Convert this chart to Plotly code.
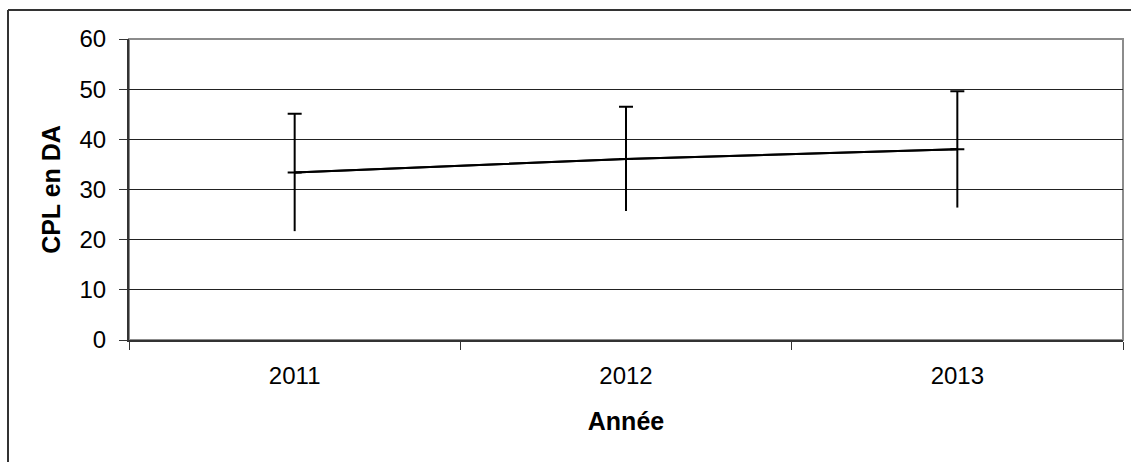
import plotly.graph_objects as go

# Annual CPL values (DA) with their spread
years = ["2011", "2012", "2013"]
cpl_mean = [33.4, 36.1, 38.0]
cpl_err = [11.7, 10.4, 11.6]

y_ticks = [0, 10, 20, 30, 40, 50, 60]

W, H = 1131, 462
L, R, T, B = 129, 8, 39, 122
pw, ph = W - L - R, H - T - B

font = "Liberation Sans, Arial, sans-serif"

fig = go.Figure()

# Lower whisker, no cap
fig.add_trace(go.Scatter(
    x=years, y=cpl_mean, mode="lines",
    line=dict(color="black", width=2),
    error_y=dict(type="data", symmetric=False, array=[0] * len(years),
                 arrayminus=cpl_err, color="black", thickness=2, width=0),
    hoverinfo="skip", showlegend=False,
))
# Upper whisker with cap, plus the mean line
fig.add_trace(go.Scatter(
    x=years, y=cpl_mean, mode="lines",
    line=dict(color="black", width=2),
    error_y=dict(type="data", symmetric=False, array=cpl_err,
                 arrayminus=[0] * len(years), color="black", thickness=2, width=7),
    showlegend=False,
))

# Chart frame (left and top edges)
px = lambda x: (x - L) / pw
py = lambda y: 1 - (y - T) / ph
fig.add_shape(type="line", xref="paper", yref="paper",
              x0=px(8), x1=px(8), y0=py(10), y1=py(470),
              line=dict(color="#333333", width=2))
fig.add_shape(type="line", xref="paper", yref="paper",
              x0=px(8), x1=px(1140), y0=py(10), y1=py(10),
              line=dict(color="#333333", width=2))
# Plot area border
fig.add_shape(type="rect", xref="paper", yref="paper",
              x0=0, x1=1, y0=0, y1=1, layer="below",
              line=dict(color="#8c8c8c", width=2))

fig.update_layout(
    width=W, height=H,
    margin=dict(l=L, r=R, t=T, b=B),
    paper_bgcolor="white", plot_bgcolor="white",
    font=dict(family=font, size=24, color="black"),
    xaxis=dict(
        type="category", tickson="boundaries", range=[-0.5, 2.5],
        ticks="outside", ticklen=8, tickcolor="#333333", tickwidth=1,
        showline=True, linecolor="#333333", linewidth=2,
        showgrid=False,
        tickfont=dict(size=24), ticklabelstandoff=13,
        title=dict(text="<b>Année</b>", font=dict(size=25), standoff=25),
    ),
    yaxis=dict(
        range=[0, 60], tickvals=y_ticks,
        ticks="outside", ticklen=8, tickcolor="#333333", tickwidth=1,
        showline=True, linecolor="#333333", linewidth=2,
        showgrid=True, gridcolor="#222222", gridwidth=1,
        zeroline=False,
        tickfont=dict(size=24), ticklabelstandoff=8,
        title=dict(text="<b>CPL en DA</b>", font=dict(size=25), standoff=12),
    ),
)

fig.write_html("out.html")
